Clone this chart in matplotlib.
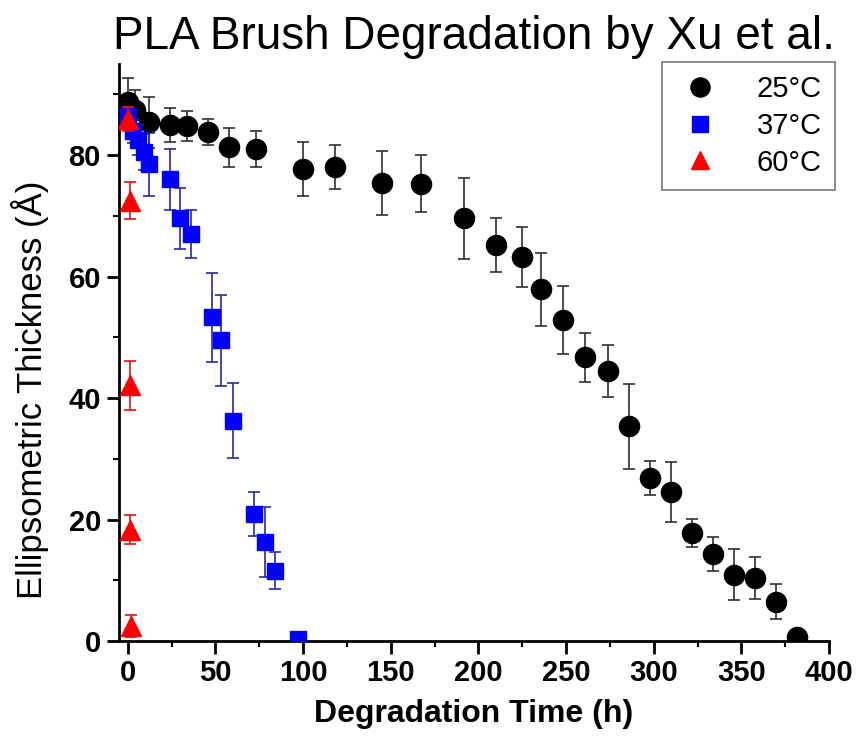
import matplotlib
matplotlib.use('Agg')
import matplotlib.pyplot as plt
from matplotlib.lines import Line2D
from matplotlib.ticker import MultipleLocator

plt.rcParams['font.family'] = ['Liberation Sans', 'DejaVu Sans']

# 25 C series: time (h), thickness (A), error
t25 = [0, 4, 12, 24, 34, 46, 58, 73, 100, 118, 145, 167, 192, 210, 225, 236,
       248, 261, 274, 286, 298, 310, 322, 334, 346, 358, 370, 382]
d25 = [88.7, 87.5, 85.4, 85.0, 84.8, 83.8, 81.3, 81.0, 77.7, 78.0, 75.4, 75.3,
       69.6, 65.2, 63.2, 57.9, 52.9, 46.7, 44.5, 35.4, 26.9, 24.5, 17.8, 14.3,
       10.9, 10.4, 6.5, 0.7]
e25 = [4.0, 3.3, 4.2, 2.8, 2.5, 2.2, 3.2, 2.9, 4.5, 3.6, 5.3, 4.7, 6.7, 4.5,
       4.9, 6.0, 5.6, 4.0, 4.3, 7.0, 2.8, 4.9, 2.3, 2.8, 4.2, 3.5, 2.9, 0.0]

# 37 C series
t37 = [0, 3, 6, 9, 12, 24, 30, 36, 48, 53, 60, 72, 78, 84, 97]
d37 = [86.5, 84.0, 82.5, 80.5, 78.5, 76.0, 69.6, 67.0, 53.3, 49.5, 36.3, 20.9,
       16.3, 11.6, 0.4]
e37 = [1.5, 2.0, 2.5, 3.0, 5.2, 5.0, 5.0, 4.0, 7.3, 7.5, 6.2, 3.6, 5.7, 3.1, 0.0]

# 60 C series
t60 = [0, 1, 1.5, 1.5, 2]
d60 = [86.0, 72.5, 42.1, 18.3, 2.5]
e60 = [2.0, 3.0, 4.0, 2.4, 1.8]

series = [
    (t25, d25, e25, 'o', 'black', '#303030', 14.5, '25°C'),
    (t37, d37, e37, 's', '#0000ff', '#2828a8', 11.5, '37°C'),
    (t60, d60, e60, '^', '#ff0000', '#e01010', 14, '60°C'),
]

fig = plt.figure(figsize=(8.58, 7.48), dpi=100)
ax = fig.add_axes([0.1387, 0.1430, 0.8275, 0.7714])

handles = []
for i, (t, d, e, mk, col, ecol, ms, lab) in enumerate(series):
    ax.errorbar(t, d, yerr=e, fmt=mk, color=col, ms=ms, ecolor=ecol,
                elinewidth=1.2, capsize=4.5, capthick=1.2, zorder=3 + i)
    handles.append(Line2D([], [], marker=mk, ls='none', color=col,
                          ms=ms * 0.95, label=lab))

ax.set_xlim(-5, 400)
ax.set_ylim(0, 95)
ax.xaxis.set_major_locator(MultipleLocator(50))
ax.xaxis.set_minor_locator(MultipleLocator(25))
ax.yaxis.set_major_locator(MultipleLocator(20))
ax.yaxis.set_minor_locator(MultipleLocator(10))

for side in ['top', 'right']:
    ax.spines[side].set_visible(False)
for side in ['left', 'bottom']:
    ax.spines[side].set_linewidth(2)

ax.tick_params(which='major', direction='out', length=9, width=2,
               labelsize=21, pad=4)
ax.tick_params(which='minor', direction='out', length=4.5, width=1.5)
for lab in ax.get_xticklabels() + ax.get_yticklabels():
    lab.set_fontweight('bold')

fig.text(0.552, 0.95, 'PLA Brush Degradation by Xu et al.', fontsize=33,
         ha='center', va='center')
fig.text(0.552, 0.046, 'Degradation Time (h)', fontsize=23,
         fontweight='bold', ha='center', va='center')
fig.text(0.035, 0.4786, 'Ellipsometric Thickness (Å)', fontsize=25,
         rotation=90, ha='center', va='center')

leg = fig.legend(handles=handles, loc='upper right',
                 bbox_to_anchor=(0.9732, 0.9171), borderaxespad=0,
                 fontsize=21, frameon=True, fancybox=False,
                 edgecolor='#555555', handletextpad=1.1, borderpad=0.45,
                 labelspacing=0.3, handlelength=1.7)
leg.get_frame().set_linewidth(1.2)

fig.savefig('out.png', dpi=100)
